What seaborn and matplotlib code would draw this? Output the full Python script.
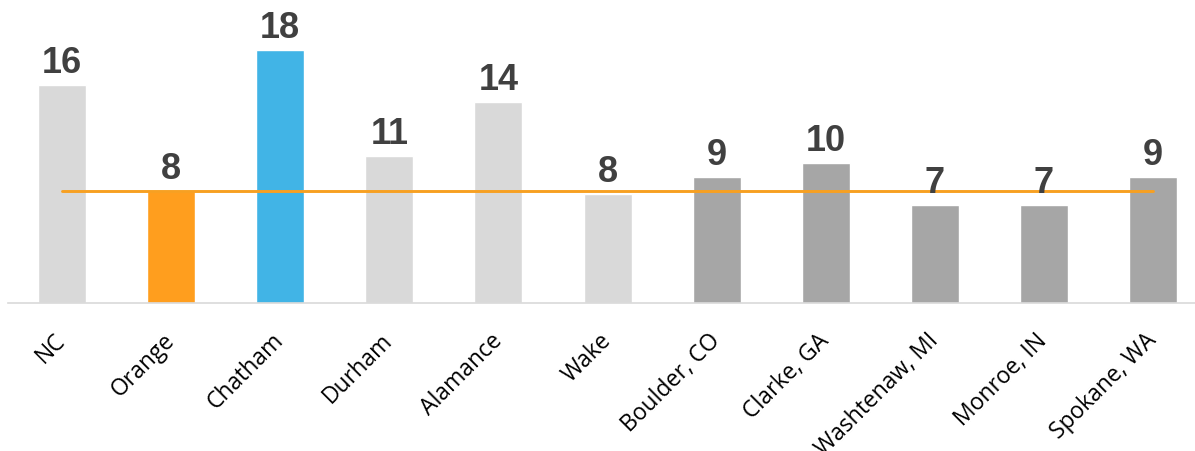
import numpy as np
import seaborn as sns
import matplotlib.pyplot as plt

# data
counties = ['NC', 'Orange', 'Chatham', 'Durham', 'Alamance', 'Wake',
            'Boulder, CO', 'Clarke, GA', 'Washtenaw, MI', 'Monroe, IN', 'Spokane, WA']
values = [15.6, 8.0, 18.1, 10.55, 14.4, 7.8, 9.0, 10.0, 7.0, 7.0, 9.0]
# reference line = Orange county value
ref_line = [8.0] * len(counties)

light = '#D9D9D9'
dark = '#A6A6A6'
bar_colors = [light, '#FF9E1E', '#41B4E6', light, light, light,
              dark, dark, dark, dark, dark]

sns.set_style('white')
plt.rcParams['font.family'] = ['Open Sans', 'DejaVu Sans']

fig = plt.figure(figsize=(11.95, 4.52), dpi=100)
ax = fig.add_axes([0.0063, 0.3274, 1.0043, 0.6726])

sns.barplot(x=counties, y=values, hue=counties, palette=bar_colors,
            width=0.44, legend=False, saturation=1, ax=ax)
ax.plot(np.arange(len(counties)), ref_line, color='#F7A022', linewidth=2.1, zorder=3)

for i, v in enumerate(values):
    ax.annotate(f'{v:.0f}', (i, v), xytext=(0, 9.4), textcoords='offset points',
                ha='center', va='baseline', fontsize=26, fontweight='bold',
                color='#404040', family='Liberation Sans')

ax.set_xlim(-0.5, len(counties) - 0.5)
ax.set_ylim(0, 21.79)
ax.set_yticks([])
ax.set_xlabel('')
ax.set_ylabel('')
for s in ['top', 'right', 'left']:
    ax.spines[s].set_visible(False)
ax.spines['bottom'].set_color(light)
ax.spines['bottom'].set_linewidth(1.2)
ax.tick_params(axis='x', length=0, pad=24)
for lab in ax.get_xticklabels():
    lab.set_rotation(45)
    lab.set_ha('right')
    lab.set_va('center')
    lab.set_rotation_mode('anchor')
    lab.set_fontsize(16.5)
    lab.set_color('black')

fig.savefig('out.png', dpi=100)
